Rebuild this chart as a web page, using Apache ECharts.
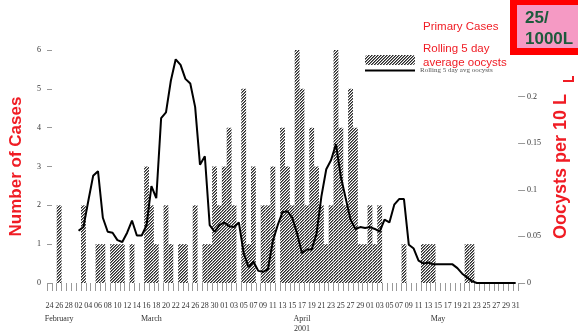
<!DOCTYPE html>
<html>
<head>
<meta charset="utf-8">
<script src="https://cdn.jsdelivr.net/npm/echarts@6/dist/echarts.min.js"></script>
<style>
  html, body { margin: 0; padding: 0; background: #fff; }
  #chart { width: 578px; height: 334px; }
</style>
</head>
<body>
<div id="chart"></div>
<script>
// one category per day, 24 Feb .. 31 May 2001
var monthSpans = [[24, 28], [1, 31], [1, 30], [1, 31]];
var days = [];
monthSpans.forEach(function (s) {
  for (var d = s[0]; d <= s[1]; d++) days.push((d < 10 ? '0' : '') + d);
});

// primary cases per day (left axis)
var cases = [
  0, 0, 2, 0, 0, 0, 0, 2, 0, 0,
  1, 1, 0, 1, 1, 1, 0, 1, 0, 0,
  3, 2, 1, 0, 2, 1, 0, 1, 1, 0,
  2, 0, 1, 1, 3, 2, 3, 4, 2, 0,
  5, 1, 3, 0, 2, 2, 3, 0, 4, 3,
  2, 6, 5, 2, 4, 3, 2, 1, 2, 6,
  4, 2, 5, 4, 1, 1, 2, 1, 2, 0,
  0, 0, 0, 1, 0, 0, 0, 1, 1, 1,
  0, 0, 0, 0, 0, 0, 1, 1, 0, 0,
  0, 0, 0, 0, 0, 0, 0
];

// rolling 5 day average oocysts per 10 L (right axis)
var oocysts = [
  null, null, null, null, null, null, 0.056, 0.060, 0.088, 0.115,
  0.120, 0.070, 0.055, 0.054, 0.046, 0.044, 0.054, 0.067, 0.051, 0.051,
  0.062, 0.104, 0.091, 0.177, 0.183, 0.217, 0.240, 0.234, 0.219, 0.214,
  0.189, 0.127, 0.136, 0.062, 0.055, 0.062, 0.065, 0.061, 0.060, 0.065,
  0.032, 0.017, 0.023, 0.013, 0.012, 0.015, 0.045, 0.062, 0.076, 0.077,
  0.070, 0.053, 0.032, 0.036, 0.036, 0.053, 0.093, 0.122, 0.132, 0.149,
  0.114, 0.091, 0.068, 0.058, 0.060, 0.059, 0.060, 0.058, 0.055, 0.068,
  0.065, 0.084, 0.090, 0.090, 0.041, 0.037, 0.024, 0.021, 0.022, 0.020,
  0.020, 0.020, 0.020, 0.020, 0.016, 0.010, 0.006, 0.002, 0, 0,
  0, 0, 0, 0, 0, 0, 0
];

// month captions under the day labels (index of the day they sit under)
var monthNames = ['February', 'March', 'April\n2001', 'May'];
var monthAt = [2, 21, 52, 80];

// diagonal hatch used for the bars, drawn pixel by pixel so it stays crisp
function hatch() {
  var n = 3;
  var c = document.createElement('canvas');
  c.width = n; c.height = n;
  var g = c.getContext('2d');
  var img = g.createImageData(n, n);
  var shade = [40, 130, 255];
  for (var y = 0; y < n; y++) {
    for (var x = 0; x < n; x++) {
      var v = shade[(x + y) % n];
      var p = (y * n + x) * 4;
      img.data[p] = img.data[p + 1] = img.data[p + 2] = v;
      img.data[p + 3] = 255;
    }
  }
  g.putImageData(img, 0, 0);
  return c;
}

var red = '#f01c24';
var tickFont = { fontFamily: 'Liberation Serif', fontSize: 8, color: '#333' };

var myChart = echarts.init(document.getElementById('chart'));
var option = {
  animation: false,
  grid: { left: 47, right: 54, top: 50, bottom: 45 },
  legend: {
    orient: 'vertical',
    left: 365, top: 55,
    itemWidth: 50, itemHeight: 10, itemGap: 2,
    padding: 0,
    data: [
      { name: 'Primary Cases', textStyle: { fontSize: 1, color: 'rgba(0,0,0,0)' } },
      { name: 'Rolling 5 day avg oocysts', icon: 'path://M0,0 H50 V2 H0 Z',
        itemStyle: { color: '#000' },
        textStyle: { fontFamily: 'Liberation Serif', fontSize: 7, color: '#555' } }
    ],
    formatter: function (n) { return n === 'Primary Cases' ? '' : n; }
  },
  xAxis: [
    {
      type: 'category',
      data: days,
      axisLine: { show: false },
      axisTick: { show: true, interval: 0, length: 8, lineStyle: { color: '#999' } },
      axisLabel: Object.assign({ interval: 1, margin: 19 }, tickFont)
    },
    {
      type: 'category',
      data: days,
      position: 'bottom',
      offset: 27,
      axisLine: { show: false },
      axisTick: { show: false },
      axisLabel: Object.assign({ interval: 0, margin: 4, lineHeight: 10,
        formatter: function (v, i) {
          var k = monthAt.indexOf(i);
          return k < 0 ? '' : monthNames[k];
        } }, tickFont)
    }
  ],
  yAxis: [
    {
      type: 'value', min: 0, max: 6, interval: 1,
      name: 'Number of Cases', nameLocation: 'middle', nameRotate: 90, nameGap: 22,
      nameTextStyle: { color: red, fontFamily: 'Liberation Sans', fontWeight: 'bold', fontSize: 17 },
      axisLine: { show: false },
      axisTick: { show: true, inside: true, length: 5, lineStyle: { color: '#999' } },
      splitLine: { show: false },
      axisLabel: Object.assign({ margin: 6 }, tickFont)
    },
    {
      type: 'value', min: 0, max: 0.25, interval: 0.05,
      name: 'Oocysts per 10 L', nameLocation: 'middle', nameRotate: 90, nameGap: 33,
      nameTextStyle: { color: red, fontFamily: 'Liberation Sans', fontWeight: 'bold', fontSize: 18 },
      axisLine: { show: false },
      axisTick: { show: true, length: 7, lineStyle: { color: '#999' } },
      splitLine: { show: false },
      axisLabel: Object.assign({ margin: 9, showMaxLabel: false,
        formatter: function (v) { return v === 0 ? '0' : String(+v.toFixed(2)); } }, tickFont)
    }
  ],
  series: [
    {
      name: 'Primary Cases',
      type: 'bar',
      data: cases,
      barCategoryGap: 0,
      itemStyle: { color: { image: hatch(), repeat: 'repeat' } }
    },
    {
      name: 'Rolling 5 day avg oocysts',
      type: 'line',
      yAxisIndex: 1,
      data: oocysts,
      symbol: 'none',
      itemStyle: { color: '#000' },
      lineStyle: { color: '#000', width: 2 }
    }
  ],
  graphic: [
    { type: 'rect', left: 510, top: 0, shape: { width: 68, height: 55 }, style: { fill: '#ff0000' } },
    { type: 'rect', left: 517, top: 5, shape: { width: 61, height: 43 }, style: { fill: '#f59ac4' } },
    { type: 'text', left: 525, top: 8, style: { text: '25/\n1000L', fill: '#1d5a3c', font: 'bold 17px "Liberation Sans"', lineHeight: 21 } },
    { type: 'text', left: 423, top: 21, style: { text: 'Primary Cases', fill: red, font: '11.5px "Liberation Sans"' } },
    { type: 'text', left: 423, top: 42, style: { text: 'Rolling 5 day\naverage oocysts', fill: red, font: '11.5px "Liberation Sans"', lineHeight: 14 } },
    { type: 'polyline', shape: { points: [[563, 81], [573, 81], [573, 76]] }, style: { stroke: red, lineWidth: 2, fill: null } }
  ]
};
myChart.setOption(option);
</script>
</body>
</html>
